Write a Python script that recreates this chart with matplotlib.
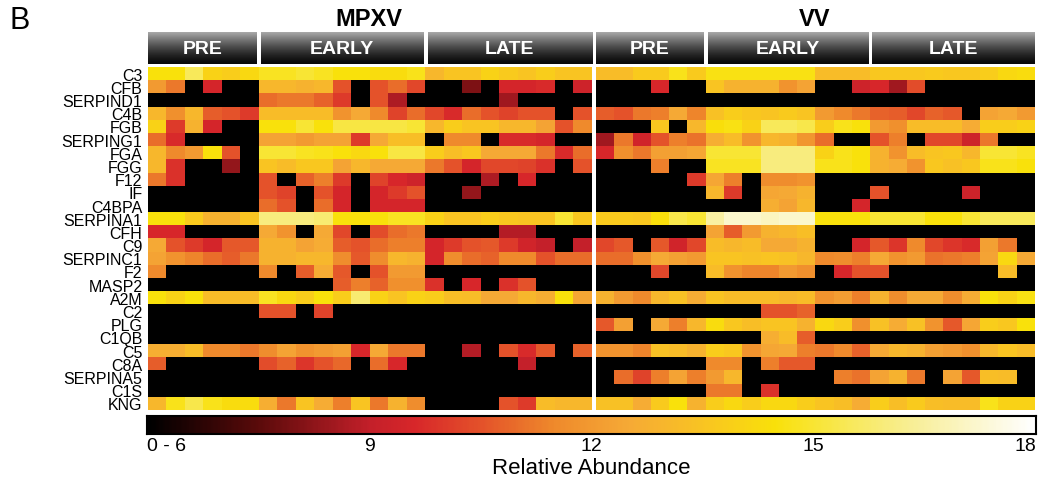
import numpy as np
import matplotlib.pyplot as plt
from matplotlib.colors import LinearSegmentedColormap

plt.rcParams['font.family'] = ['Liberation Sans', 'DejaVu Sans']

proteins = ['C3', 'CFB', 'SERPIND1', 'C4B', 'FGB', 'SERPING1', 'FGA', 'FGG', 'F12', 'IF',
            'C4BPA', 'SERPINA1', 'CFH', 'C9', 'SERPINC1', 'F2', 'MASP2', 'A2M', 'C2', 'PLG',
            'C1QB', 'C5', 'C8A', 'SERPINA5', 'C1S', 'KNG']
groups = ['PRE', 'EARLY', 'LATE']
group_sizes = [6, 9, 9]
panels = ['MPXV', 'VV']
cbar_ticks = [6, 9, 12, 15, 18]
cbar_labels = ['0 - 6', '9', '12', '15', '18']

# relative abundance, 0 = below detection (black)
mpxv = [
    [14.5, 14.5, 15.5, 14, 13.8, 14.2, 14.8, 14.8, 15, 14.8, 14.5, 14.5, 14.3, 14.3, 14.7, 13, 13.5, 13.5, 14, 13.7, 13.5, 13.8, 13.5, 13.5],
    [12, 11.2, 0, 9.5, 0, 0, 13, 13, 12.8, 13, 10.5, 0, 10.5, 11, 10.3, 0, 0, 8, 0, 9.5, 9.5, 9.7, 0, 9.3],
    [0, 0, 0, 0, 0, 0, 11, 11.2, 11.2, 10.8, 10, 0, 10.5, 8.7, 0, 0, 0, 0, 0, 8.5, 0, 0, 0, 0],
    [13, 11.7, 13, 10.7, 10.5, 10, 13.2, 13.2, 13.2, 13.2, 11.8, 12.5, 11.5, 10.2, 11, 10.3, 9.7, 11, 10.5, 10.2, 10.5, 10.5, 0, 10.5],
    [14, 10, 12.8, 9.5, 0, 0, 14.5, 14.5, 15, 14.5, 15.2, 15.2, 15.2, 15.2, 15, 13, 13.8, 13.5, 13.5, 13, 13, 12.3, 10.5, 11.5],
    [11, 9.7, 0, 0, 0, 0, 12.3, 12.3, 12, 12.3, 12.3, 10, 12.5, 13.3, 13.3, 0, 11.5, 11.5, 0, 9.7, 9.7, 9.5, 0, 0],
    [13, 11.5, 12, 14.5, 10.5, 0, 15, 15, 14.8, 14.7, 14.5, 14.2, 14.5, 15.2, 15.2, 13.8, 13.3, 13.6, 12.5, 12.5, 12.5, 11.2, 9.7, 11],
    [13, 9.8, 0, 0, 8.3, 0, 13.5, 13.2, 13.6, 13.6, 12.3, 13, 12.5, 12.5, 12.5, 11.2, 10.5, 9.5, 10.3, 10.3, 10.2, 9.8, 0, 10.5],
    [11.2, 9.8, 0, 0, 0, 0, 10.5, 0, 10.8, 11.3, 10, 0, 10.2, 9.6, 9.3, 0, 0, 0, 8.7, 0, 9.6, 0, 0, 0],
    [0, 0, 0, 0, 0, 0, 10.5, 10.2, 0, 10.5, 9.5, 0, 9.5, 10, 10.5, 0, 0, 8.3, 0, 0, 0, 0, 0, 0],
    [0, 0, 0, 0, 0, 0, 11, 10.5, 0, 11, 9.5, 0, 9.5, 9.5, 9.5, 0, 0, 0, 0, 0, 0, 0, 0, 0],
    [14.5, 14.5, 13.7, 12.8, 12.8, 13.5, 16, 16, 16, 15.8, 14.5, 14.5, 14.5, 14.8, 14.8, 14, 13.5, 13.5, 13.8, 13.6, 13.5, 13.5, 15, 13.6],
    [9.6, 9.6, 0, 0, 0, 0, 12.5, 11.8, 0, 12.5, 10.3, 0, 10.4, 11, 11.2, 0, 0, 0, 0, 8.8, 8.8, 0, 0, 0],
    [12.5, 10.5, 10, 9.5, 10.6, 10.6, 12.8, 12.8, 12.3, 12.6, 10.7, 10.5, 11, 11.3, 11.3, 9.5, 10, 10.5, 10.6, 10, 9.4, 9, 0, 9],
    [12.3, 11.8, 11.4, 11, 10.7, 11.2, 12.8, 12.8, 13, 13, 11.6, 10.6, 11.6, 13, 12.8, 9.5, 11.6, 11, 10.8, 11.5, 11.5, 10.5, 11, 11],
    [11.5, 0, 0, 0, 0, 0, 11.5, 0, 10.7, 12.6, 10.6, 0, 10.5, 12, 12, 0, 0, 0, 0, 0, 0, 0, 0, 0],
    [0, 0, 0, 0, 0, 0, 0, 0, 0, 0, 10.7, 11.3, 10.8, 11.7, 11.7, 9.8, 0, 9.6, 0, 9.8, 10.5, 0, 0, 0],
    [14.5, 14, 14.5, 13.2, 13.2, 13.2, 14.8, 14.2, 13.8, 14.5, 13.8, 15.8, 14, 13.5, 14, 13.8, 13.3, 13.2, 12.5, 12.5, 13, 12.7, 14.5, 12.4],
    [0, 0, 0, 0, 0, 0, 10.5, 10.5, 0, 10.2, 0, 0, 0, 0, 0, 0, 0, 0, 0, 0, 0, 0, 0, 0],
    [0] * 24,
    [0] * 24,
    [12.7, 12.7, 13.2, 11.5, 11.5, 11.2, 11.6, 12.3, 11.8, 12, 12.2, 9.6, 12.5, 11.2, 11.2, 0, 0, 8.8, 0, 10.5, 9.7, 10.6, 0, 10.8],
    [10.7, 0, 0, 0, 0, 0, 10.4, 10.8, 9.9, 10.5, 10.9, 0, 11, 9.6, 0, 0, 0, 0, 0, 0, 9, 0, 0, 0],
    [0] * 24,
    [0] * 24,
    [13, 14.7, 15.3, 14.7, 14.3, 14.3, 12.7, 11.2, 13.5, 12.6, 11.3, 13.5, 11.2, 12.8, 11.6, 0, 0, 0, 0, 10.5, 10, 13.2, 13, 13],
]

vv = [
    [13.2, 13.2, 13.7, 13.7, 14.7, 13.7, 14.6, 14.6, 14.6, 14.6, 14.6, 14.6, 13.2, 13.2, 13.2, 13.6, 13.6, 13.6, 13.7, 13.6, 13.6, 13.8, 14.2, 14.3],
    [0, 0, 0, 9.6, 0, 0, 13.5, 12.8, 12.8, 12.8, 11.8, 12.3, 0, 0, 9.3, 9.6, 8.5, 10.4, 0, 0, 0, 0, 0, 0],
    [0] * 24,
    [10.7, 10.5, 11.2, 11.3, 12.5, 11.4, 13.4, 13.8, 13.6, 13.5, 13.7, 13.5, 12, 11.5, 11.2, 10.8, 10.7, 10.3, 10.8, 10.6, 0, 12.3, 12.5, 12],
    [0, 0, 0, 13.6, 0, 13, 14.4, 14.6, 14, 15.5, 15.5, 15.3, 13.8, 14.7, 14.5, 12, 11.7, 13.2, 13.2, 13.2, 12.6, 13.8, 13.8, 14],
    [8.5, 11.2, 9.4, 10.5, 11.3, 11.1, 12.7, 13.2, 11.8, 13, 12.8, 11.9, 11, 0, 0, 10.5, 11.3, 0, 10.3, 10.3, 9.3, 11.2, 0, 0],
    [9.6, 11.7, 11.2, 12.2, 12.2, 12.4, 15, 15, 15, 16, 16, 16, 14, 14.7, 14.5, 12.8, 11.8, 13.2, 13.5, 13.6, 13, 15, 15, 14.8],
    [0, 0, 0, 11.3, 0, 0, 14.8, 14.8, 14.8, 16, 16, 16, 14.7, 14.7, 14.5, 12.8, 12.6, 11.8, 13.6, 13.4, 13.6, 14.7, 14.7, 14.5],
    [0, 0, 0, 0, 0, 10, 12.4, 11.3, 0, 11.6, 11.6, 11.8, 0, 0, 0, 0, 0, 0, 0, 0, 0, 0, 0, 0],
    [0, 0, 0, 0, 0, 0, 13, 10, 0, 12.4, 12.5, 12.8, 0, 0, 0, 10.5, 0, 0, 0, 0, 9.3, 0, 0, 0],
    [0, 0, 0, 0, 0, 0, 0, 0, 0, 12.7, 12.3, 13, 0, 0, 9.5, 0, 0, 0, 0, 0, 0, 0, 0, 0],
    [13.7, 13.7, 13.6, 14.4, 15.3, 15, 16.5, 17.2, 17.2, 17, 17.2, 17.2, 14.5, 14.5, 14.5, 15, 15, 15, 14.5, 14.5, 15, 15.5, 15.5, 15.5],
    [0, 0, 0, 0, 0, 0, 12.3, 10.7, 12, 12.8, 13, 13.3, 0, 0, 0, 0, 0, 0, 0, 0, 0, 0, 0, 0],
    [10.3, 10.6, 0, 10.6, 9.4, 10.3, 13.2, 13, 13.2, 12.5, 12.5, 12.8, 0, 0, 9.5, 10.6, 9.9, 11.5, 10.3, 9.9, 9.7, 12.2, 11.2, 0],
    [11, 11, 11.7, 12.5, 12.2, 12, 13.5, 13.5, 13.4, 13.5, 13.4, 13, 11.5, 11.6, 11.3, 12.5, 11.8, 12, 11.1, 11.2, 11.3, 12.3, 14.2, 12.5],
    [0, 0, 0, 10.3, 0, 0, 13.2, 11.8, 11.4, 11.4, 12, 11.7, 0, 9.6, 10.5, 10.5, 0, 0, 0, 0, 0, 0, 13.2, 0],
    [0] * 24,
    [12.8, 12, 11.5, 13, 13.4, 12.6, 13.5, 13.2, 13.2, 13.2, 13, 13.2, 11.8, 12.1, 11.3, 12.8, 11.6, 12.5, 12.5, 11.6, 12.6, 14.5, 14, 14.6],
    [0, 0, 0, 0, 0, 0, 0, 0, 0, 10.5, 10.5, 10.8, 0, 0, 0, 0, 0, 0, 0, 0, 0, 0, 0, 0],
    [10.6, 12.2, 0, 12.5, 11.3, 13, 14.3, 13.6, 13.3, 13.5, 13.5, 12.8, 14.2, 13.8, 11.7, 13.4, 12.6, 13.4, 11.8, 10.6, 12.4, 13.8, 13.6, 14.5],
    [0, 0, 0, 0, 0, 0, 0, 0, 0, 12.7, 13.2, 10.7, 0, 0, 0, 0, 0, 0, 0, 0, 0, 0, 0, 0],
    [11.8, 11.8, 11.4, 13.4, 13.2, 12.8, 13.8, 13.6, 11.8, 12.4, 12.5, 11.3, 11.2, 11.5, 10.8, 12.5, 13, 12.8, 12.2, 12, 11.7, 13, 13.5, 13.2],
    [0, 0, 0, 0, 0, 0, 11.5, 11.5, 0, 11.3, 10.6, 10.6, 0, 0, 0, 0, 0, 0, 0, 0, 0, 0, 0, 0],
    [0, 11, 10.2, 11.3, 12.3, 11.3, 12, 13, 0, 0, 0, 0, 0, 11.3, 11.1, 12.3, 12.8, 11.2, 0, 12.3, 10.6, 13.3, 13.2, 0],
    [0, 0, 0, 0, 0, 0, 11.2, 11.2, 0, 9.8, 0, 0, 0, 0, 0, 0, 0, 0, 0, 0, 0, 0, 0, 0],
    [13.4, 13.4, 12.6, 13.7, 14.5, 12.8, 13.8, 14.2, 13.8, 14.2, 14.2, 13.8, 13.5, 13.3, 12.6, 13.8, 13.3, 13.7, 13.3, 13.2, 13.2, 14.7, 14, 14],
]

cmap = LinearSegmentedColormap.from_list('abund', [
    (0.0, '#000000'), (0.125, '#5c0b0b'), (0.25, '#c4202a'), (0.30, '#d8272a'),
    (0.375, '#e4522a'), (0.458, '#ef8a2c'), (0.542, '#f6aa36'), (0.625, '#f9c423'),
    (0.708, '#fae10a'), (0.792, '#f8e95a'), (0.875, '#f9f0a0'), (1.0, '#ffffff')])

W, H = 1040, 485
fig = plt.figure(figsize=(W / 100, H / 100), dpi=100)


def rect(x0, y0, x1, y1):
    # pixel box (top-left origin) -> figure fraction
    return [x0 / W, 1 - y1 / H, (x1 - x0) / W, (y1 - y0) / H]


hm_top, hm_bot = 68, 411
panel_x = [(148, 592), (596, 1035)]
title_x = [369, 815]

for p, (data, (x0, x1)) in enumerate(zip([mpxv, vv], panel_x)):
    ax = fig.add_axes(rect(x0, hm_top, x1, hm_bot))
    ax.imshow(np.array(data), cmap=cmap, vmin=6, vmax=18, aspect='auto', interpolation='nearest')
    for s in ax.spines.values():
        s.set_visible(False)
    ax.set_xticks([])
    if p == 0:
        ax.set_yticks(range(len(proteins)))
        ax.set_yticklabels(proteins, fontsize=11.5)
        ax.tick_params(axis='y', length=0, pad=4)
    else:
        ax.set_yticks([])

    fig.text(title_x[p] / W, 1 - 19 / H, panels[p], ha='center', va='center',
             fontsize=17, fontweight='bold')

    # group header bars
    cw = (x1 - x0) / sum(group_sizes)
    start = 0
    for g, n in zip(groups, group_sizes):
        hx0 = x0 + start * cw + (2 if start > 0 else 0)
        hx1 = x0 + (start + n) * cw - (2 if start + n < sum(group_sizes) else 0)
        hax = fig.add_axes(rect(hx0, 33, hx1, 65))
        grad = 0.62 * (1 - np.linspace(0, 1, 60)) ** 1.4 + 0.04
        hax.imshow(grad.reshape(-1, 1), cmap='gray', vmin=0, vmax=1, aspect='auto')
        hax.axis('off')
        hax.text(0.5, 0.47, g, transform=hax.transAxes, ha='center', va='center',
                 color='white', fontsize=14, fontweight='bold')
        start += n

# colour bar
cax = fig.add_axes(rect(147, 417, 1036, 435))
cax.imshow(np.linspace(6, 18, 400).reshape(1, -1), cmap=cmap, vmin=6, vmax=18,
           aspect='auto', extent=[6, 18, 0, 1])
cax.set_xticks([])
cax.set_yticks([])
for s in cax.spines.values():
    s.set_linewidth(1.5)

for t, lab in zip(cbar_ticks, cbar_labels):
    xp = 147 + (t - 6) / 12 * (1036 - 147)
    ha = 'left' if t == 6 else ('right' if t == 18 else 'center')
    fig.text(xp / W, 1 - 447 / H, lab, ha=ha, va='center', fontsize=14)

fig.text(591 / W, 1 - 469 / H, 'Relative Abundance', ha='center', va='center', fontsize=16)
fig.text(10 / W, 1 - 21 / H, 'B', ha='left', va='center', fontsize=22)

fig.savefig('out.png', dpi=100)
